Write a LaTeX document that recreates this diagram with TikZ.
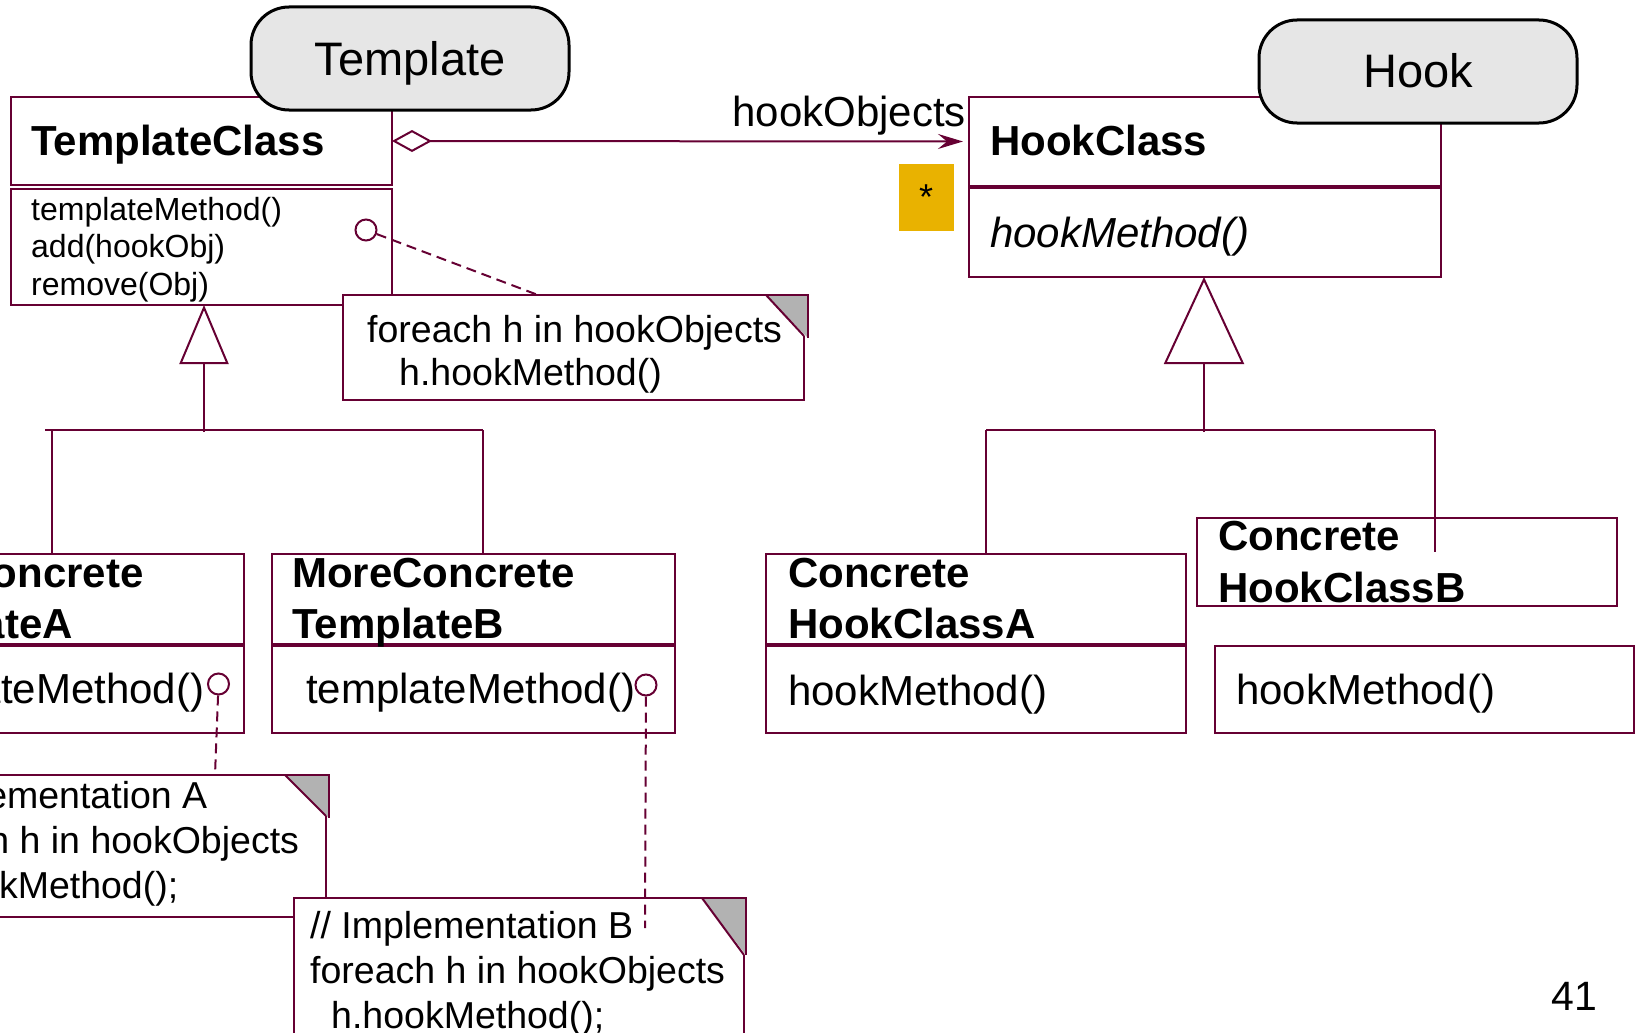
\documentclass[tikz,border=0pt]{standalone}
\usepackage{fontspec}
\setmainfont{Liberation Sans}
\usetikzlibrary{arrows.meta}

\definecolor{uml}{RGB}{102,0,51}
\definecolor{pillgray}{RGB}{230,230,230}
\definecolor{foldgray}{RGB}{178,178,178}
\definecolor{stargold}{RGB}{233,178,0}

\newcommand{\fs}[1]{\fontsize{#1}{#1}\selectfont}
% note with a folded corner: x0 y0 xfold xright xgray yfold ygray ybottom
\newcommand{\umlnote}[8]{%
  \fill[white] (#1,#2) -- (#3,#2) -- (#4,#6) -- (#4,#8) -- (#1,#8) -- cycle;
  \fill[foldgray] (#3,#2) -- (#5,#2) -- (#5,#7) -- cycle;
  \draw[link] (#4,#6) -- (#4,#8) -- (#1,#8) -- (#1,#2) -- (#5,#2) -- (#5,#7);
  \draw[link] (#3,#2) -- (#4,#6);
}

\begin{document}
\begin{tikzpicture}[x=1pt,y=-1pt,
  cls/.style={rectangle, draw=uml, line width=2pt, fill=white, inner sep=0pt, outer sep=0pt, anchor=north west},
  pill/.style={rectangle, draw=black, line width=3pt, fill=pillgray, rounded corners=38pt, inner sep=0pt, outer sep=0pt, anchor=north west},
  bname/.style={font=\fs{42}\bfseries, anchor=base west, inner sep=0pt},
  meth/.style={font=\fs{42}, anchor=base west, inner sep=0pt},
  smallmeth/.style={font=\fs{32}, anchor=base west, inner sep=0pt},
  notetxt/.style={font=\fs{37.5}, anchor=base west, inner sep=0pt},
  link/.style={draw=uml, line width=2pt},
  dashlink/.style={draw=uml, line width=2pt, dash pattern=on 10pt off 6pt},
  port/.style={circle, draw=uml, line width=2pt, fill=white, minimum size=21pt, inner sep=0pt},
]
\useasboundingbox (0,0) rectangle (1639,1033);
\fill[white] (0,0) rectangle (1639,1033);
\clip (0,0) rectangle (1639,1033);

% ---- template side classes
\node[cls, minimum width=381pt, minimum height=88pt] (tch) at (11,97) {};
\node[cls, minimum width=381pt, minimum height=116pt] (tcm) at (11,189) {};
\node[pill, minimum width=318pt, minimum height=103pt] (tpill) at (251,7) {};
\node[font=\fs{47}, anchor=base, inner sep=0pt] (tpilltxt) at (410,76) {Template};
\node[bname] (tcname) at (31,155) {TemplateClass};
\node[smallmeth] (tcm1) at (31,220) {templateMethod()};
\node[smallmeth] (tcm2) at (31,257.5) {add(hookObj)};
\node[smallmeth] (tcm3) at (31,295) {remove(Obj)};

% ---- hook side class
\node[cls, minimum width=472pt, minimum height=89pt] (hch) at (969,97) {};
\node[cls, minimum width=472pt, minimum height=89pt] (hcm) at (969,188) {};
\node[pill, minimum width=318pt, minimum height=103pt] (hpill) at (1259,20) {};
\node[font=\fs{47}, anchor=base, inner sep=0pt] (hpilltxt) at (1418,88) {Hook};
\node[bname] (hcname) at (990,155) {HookClass};
\node[meth, font=\fs{42}\itshape] (hcm1) at (990,247) {hookMethod()};

% ---- concrete template classes
\node[cls, minimum width=403pt, minimum height=90pt] (mtah) at (-159,554) {};
\node[cls, minimum width=403pt, minimum height=87pt] (mtam) at (-159,646) {};
\node[bname] (mta1) at (-139,587) {MoreConcrete};
\node[bname] (mta2) at (-139,638) {TemplateA};
\node[meth] (mtam1) at (-125,703) {templateMethod()};

\node[cls, minimum width=403pt, minimum height=90pt] (mtbh) at (272,554) {};
\node[cls, minimum width=403pt, minimum height=87pt] (mtbm) at (272,646) {};
\node[bname] (mtb1) at (292,587) {MoreConcrete};
\node[bname] (mtb2) at (292,638) {TemplateB};
\node[meth] (mtbm1) at (306,703) {templateMethod()};

% ---- concrete hook classes
\node[cls, minimum width=420pt, minimum height=90pt] (chah) at (766,554) {};
\node[cls, minimum width=420pt, minimum height=87pt] (cham) at (766,646) {};
\node[bname] (cha1) at (788,587) {Concrete};
\node[bname] (cha2) at (788,638) {HookClassA};
\node[meth] (cham1) at (788,705) {hookMethod()};

\node[cls, minimum width=420pt, minimum height=88pt] (chbh) at (1197,518) {};
\node[cls, minimum width=419pt, minimum height=87pt] (chbm) at (1215,646) {};
\node[bname] (chb1) at (1218,550) {Concrete};
\node[bname] (chb2) at (1218,602) {HookClassB};
\node[meth] (chbm1) at (1236,704) {hookMethod()};

% ---- aggregation with multiplicity
\draw[link, {Diamond[open,length=40pt,width=22pt]}-{Stealth[length=25pt,width=15pt,inset=9pt]}, shorten >=6pt] (tch.east) -- (hch.west);
\node[meth, anchor=base east] (holbl) at (966,126) {hookObjects};
\node[fill=stargold, minimum width=55pt, minimum height=67pt, inner sep=0pt, anchor=north west] (mult) at (899,164) {};
\node[font=\fs{36}, anchor=base, inner sep=0pt] (multstar) at (926,209) {*};

% ---- generalization, template side
\coordinate (jl) at (204,432);
\draw[link, -{Triangle[open,length=59pt,width=49pt]}] (jl) -- (jl |- tcm.south);
\coordinate (bl) at (45,430);
\coordinate (da) at (52,430);
\coordinate (db) at (483,430);
\draw[link] (bl) -- (db);
\draw[link] (da) -- (da |- mtah.north);
\draw[link] (db) -- (db |- mtbh.north);

% ---- generalization, hook side
\coordinate (jr) at (1204,432);
\draw[link, -{Triangle[open,length=87pt,width=80pt]}] (jr) -- (jr |- hcm.south);
\coordinate (dc) at (986,430);
\coordinate (dd) at (1435,430);
\coordinate (ddend) at (1435,552);
\draw[link] (dc) -- (dd);
\draw[link] (dc) -- (dc |- chah.north);
\draw[link] (dd) -- (ddend);

% ---- notes
\umlnote{343}{295}{766}{804}{808}{336}{338}{400}
\node[notetxt] (n1l1) at (367,342) {foreach h in hookObjects};
\node[notetxt] (n1l2) at (399,385) {h.hookMethod()};

\umlnote{-133}{775}{285}{326}{329}{816}{818}{917}
\node[notetxt] (n2l1) at (-116,808) {// Implementation A};
\node[notetxt] (n2l2) at (-116,853) {foreach h in hookObjects};
\node[notetxt] (n2l3) at (-95,898) {h.hookMethod();};

\umlnote{294}{898}{702}{744}{746}{955}{955}{1045}
\node[notetxt] (n3l1) at (310,938) {// Implementation B};
\node[notetxt] (n3l2) at (310,983) {foreach h in hookObjects};
\node[notetxt] (n3l3) at (331,1028) {h.hookMethod();};

% ---- method ports and note links
\node[port] (p1) at (366,230) {};
\node[port] (p2) at (218.5,684) {};
\node[port] (p3) at (646,685) {};
\coordinate (n1a) at (538,295);
\coordinate (n2a) at (215,775);
\coordinate (n3a) at (645,928);
\draw[dashlink] (p1) -- (n1a);
\draw[dashlink] (p2) -- (n2a);
\draw[dashlink] (p3) -- (n3a);

% ---- page number
\node[font=\fs{41}, anchor=base west, inner sep=0pt] (pageno) at (1551,1010) {41};
\end{tikzpicture}
\end{document}
